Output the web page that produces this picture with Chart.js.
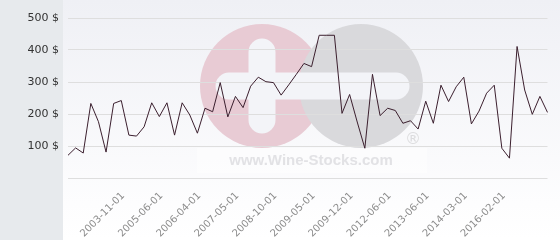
<!DOCTYPE html>
<html>
<head>
<meta charset="utf-8">
<script src="https://cdn.jsdelivr.net/npm/chart.js@4/dist/chart.umd.min.js"></script>
<style>
  html, body { margin: 0; padding: 0; background: #fff; }
</style>
</head>
<body>
<canvas id="priceChart" width="560" height="240"></canvas>
<script>
// Price per bottle, one value per auction date
const prices = [
  71, 94, 78, 233, 176, 81, 233, 242, 134, 131,
  160, 235, 192, 235, 134, 235, 197, 140, 218, 207,
  298, 191, 255, 220, 287, 315, 301, 298, 259, 291,
  324, 358, 348, 446, 446, 446, 202, 261, 175, 93,
  324, 195, 218, 211, 171, 179, 153, 240, 171, 290,
  239, 285, 315, 169, 209, 265, 290, 93, 62, 411,
  275, 199, 255, 205
];

// Dates that get printed under the axis (every 5th point, from the 8th one)
const tickLabels = [
  '2003-11-01', '2005-06-01', '2006-04-01', '2007-05-01', '2008-10-01',
  '2009-05-01', '2009-12-01', '2012-06-01', '2013-06-01', '2014-03-01',
  '2016-02-01'
];
const firstLabeled = 7;
const labelStep = 5;

const yMax = 500;
const yStep = 100;

// Build the category list, blank where no date is shown
const categories = prices.map((p, i) => {
  const k = (i - firstLabeled) / labelStep;
  return (Number.isInteger(k) && k >= 0 && k < tickLabels.length) ? tickLabels[k] : '';
});

// Background, left panel and the wine-stocks watermark
const backdrop = {
  id: 'backdrop',
  beforeDraw(chart) {
    const ctx = chart.ctx;
    const w = chart.width, h = chart.height;
    ctx.save();
    const grad = ctx.createLinearGradient(0, 0, 0, h);
    grad.addColorStop(0, '#eff0f5');
    grad.addColorStop(0.85, '#fdfdfe');
    grad.addColorStop(1, '#ffffff');
    ctx.fillStyle = grad;
    ctx.fillRect(0, 0, w, h);

    ctx.fillStyle = '#e7eaed';
    ctx.fillRect(0, 0, 63, h);

    // two discs
    ctx.fillStyle = '#e8cbd4';
    ctx.beginPath();
    ctx.arc(262, 86, 62, 0, Math.PI * 2);
    ctx.fill();
    ctx.fillStyle = '#d9d9dc';
    ctx.beginPath();
    ctx.arc(361, 86, 62, 0, Math.PI * 2);
    ctx.fill();

    // plus and minus cut-outs
    ctx.strokeStyle = '#f3f4f8';
    ctx.lineCap = 'round';
    ctx.lineWidth = 27;
    ctx.beginPath();
    ctx.moveTo(229, 86);
    ctx.lineTo(396, 86);
    ctx.moveTo(262, 52);
    ctx.lineTo(262, 120);
    ctx.stroke();

    ctx.fillStyle = 'rgba(255,255,255,0.45)';
    ctx.fillRect(197, 148, 230, 25);

    ctx.fillStyle = '#e2e2e5';
    ctx.font = 'bold 15px "Liberation Sans"';
    ctx.textAlign = 'center';
    ctx.textBaseline = 'middle';
    ctx.fillText('www.Wine-Stocks.com', 311, 161);
    ctx.font = '16px "DejaVu Sans"';
    ctx.fillStyle = '#dcdcde';
    ctx.fillText('\u00AE', 413, 140);
    ctx.restore();
  }
};

new Chart(document.getElementById('priceChart'), {
  type: 'line',
  data: {
    labels: categories,
    datasets: [{
      data: prices,
      borderColor: '#3b1f2e',
      borderWidth: 1,
      pointRadius: 0,
      tension: 0,
      fill: false
    }]
  },
  options: {
    responsive: false,
    devicePixelRatio: 1,
    animation: false,
    layout: { padding: { top: 18, right: 5, left: 0, bottom: 0 } },
    plugins: {
      legend: { display: false },
      tooltip: { enabled: false }
    },
    scales: {
      x: {
        offset: false,
        grid: { display: false },
        border: { display: false },
        ticks: {
          autoSkip: false,
          minRotation: 45,
          maxRotation: 45,
          padding: 4,
          labelOffset: 2,
          color: '#8c8c8c',
          font: { family: 'DejaVu Sans', size: 10 }
        },
        afterFit: (scale) => { scale.height = 62; }
      },
      y: {
        min: 0,
        max: yMax,
        grid: { color: '#dedede', drawTicks: false },
        border: { display: false },
        ticks: {
          stepSize: yStep,
          padding: 9,
          color: '#333333',
          font: { family: 'DejaVu Sans', size: 11 },
          callback: (v) => v === 0 ? '' : v + ' $'
        },
        afterFit: (scale) => { scale.width = 68; }
      }
    }
  },
  plugins: [backdrop]
});
</script>
</body>
</html>
